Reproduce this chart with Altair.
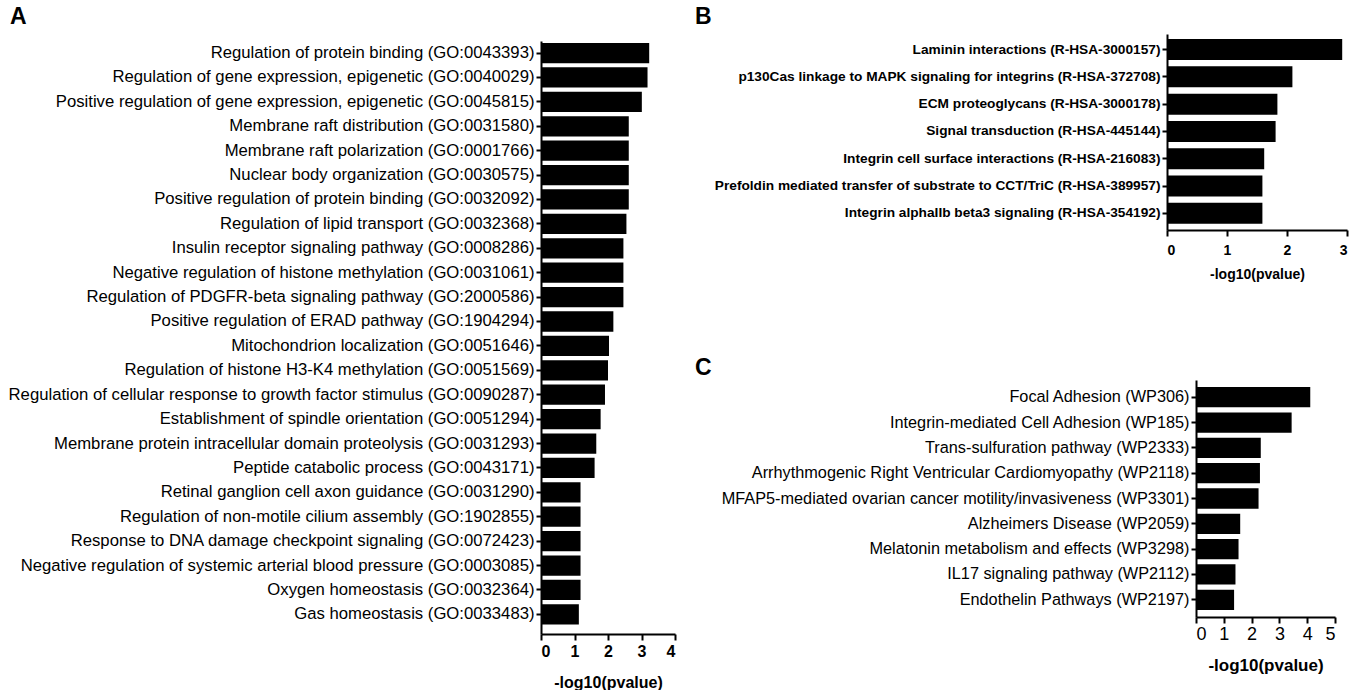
import altair as alt
import pandas as pd

FONT = "Liberation Sans"

a_terms = [
    "Regulation of protein binding (GO:0043393)",
    "Regulation of gene expression, epigenetic (GO:0040029)",
    "Positive regulation of gene expression, epigenetic (GO:0045815)",
    "Membrane raft distribution (GO:0031580)",
    "Membrane raft polarization (GO:0001766)",
    "Nuclear body organization (GO:0030575)",
    "Positive regulation of protein binding (GO:0032092)",
    "Regulation of lipid transport (GO:0032368)",
    "Insulin receptor signaling pathway (GO:0008286)",
    "Negative regulation of histone methylation (GO:0031061)",
    "Regulation of PDGFR-beta signaling pathway (GO:2000586)",
    "Positive regulation of ERAD pathway (GO:1904294)",
    "Mitochondrion localization (GO:0051646)",
    "Regulation of histone H3-K4 methylation (GO:0051569)",
    "Regulation of cellular response to growth factor stimulus (GO:0090287)",
    "Establishment of spindle orientation (GO:0051294)",
    "Membrane protein intracellular domain proteolysis (GO:0031293)",
    "Peptide catabolic process (GO:0043171)",
    "Retinal ganglion cell axon guidance (GO:0031290)",
    "Regulation of non-motile cilium assembly (GO:1902855)",
    "Response to DNA damage checkpoint signaling (GO:0072423)",
    "Negative regulation of systemic arterial blood pressure (GO:0003085)",
    "Oxygen homeostasis (GO:0032364)",
    "Gas homeostasis (GO:0033483)",
]
a_vals = [3.23, 3.18, 3.01, 2.62, 2.62, 2.62, 2.62, 2.55, 2.46, 2.46, 2.46, 2.16,
          2.03, 2.00, 1.91, 1.78, 1.65, 1.60, 1.18, 1.18, 1.18, 1.18, 1.18, 1.13]
a_ticks = [0, 1, 2, 3, 4]

b_terms = [
    "Laminin interactions (R-HSA-3000157)",
    "p130Cas linkage to MAPK signaling for integrins (R-HSA-372708)",
    "ECM proteoglycans (R-HSA-3000178)",
    "Signal transduction (R-HSA-445144)",
    "Integrin cell surface interactions (R-HSA-216083)",
    "Prefoldin mediated transfer of substrate to CCT/TriC (R-HSA-389957)",
    "Integrin alphaIIb beta3 signaling (R-HSA-354192)",
]
b_vals = [2.92, 2.09, 1.84, 1.81, 1.62, 1.59, 1.59]
b_ticks = [0, 1, 2, 3]

c_terms = [
    "Focal Adhesion (WP306)",
    "Integrin-mediated Cell Adhesion (WP185)",
    "Trans-sulfuration pathway (WP2333)",
    "Arrhythmogenic Right Ventricular Cardiomyopathy (WP2118)",
    "MFAP5-mediated ovarian cancer motility/invasiveness (WP3301)",
    "Alzheimers Disease (WP2059)",
    "Melatonin metabolism and effects (WP3298)",
    "IL17 signaling pathway (WP2112)",
    "Endothelin Pathways (WP2197)",
]
c_vals = [4.11, 3.44, 2.33, 2.30, 2.25, 1.59, 1.53, 1.42, 1.37]
c_ticks = [0, 1, 2, 3, 4, 5]

x_title = "-log10(pvalue)"


def panel(terms, vals, ticks, letter, width, height, yrange, xrange, pin, pout,
          align, lab_size, lab_weight, tick_size, tick_weight, title_size,
          yoffset, title_dx, title_offset, lab_pad, title_pad):
    df = pd.DataFrame({"term": terms, "value": vals})
    xs = dict(domain=[ticks[0], ticks[-1]], nice=False, zero=True)
    if xrange is not None:
        xs["range"] = xrange
    ys = dict(paddingInner=pin, paddingOuter=pout, align=align)
    if yrange is not None:
        ys["range"] = yrange
    yaxis = dict(title=None, labelFont=FONT, labelFontSize=lab_size,
                 labelFontWeight=lab_weight, labelLimit=800, labelPadding=2,
                 tickSize=5, tickWidth=2, domainWidth=2, domainColor="black",
                 tickColor="black", labelColor="black", grid=False)
    if yoffset:
        yaxis["offset"] = yoffset
    return alt.Chart(df).mark_bar(color="black").encode(
        x=alt.X("value:Q", scale=alt.Scale(**xs),
                axis=alt.Axis(values=ticks, title=x_title, format="d",
                              labelFont=FONT, labelFontSize=tick_size,
                              labelFontWeight=tick_weight, labelPadding=lab_pad,
                              titleFont=FONT, titleFontSize=title_size,
                              titleFontWeight="bold", titlePadding=title_pad,
                              tickSize=6, tickWidth=2, domainWidth=2,
                              domainColor="black", tickColor="black",
                              labelColor="black", titleColor="black",
                              grid=False)),
        y=alt.Y("term:N", sort=None, scale=alt.Scale(**ys), axis=alt.Axis(**yaxis)),
    ).properties(
        width=width, height=height,
        title=alt.TitleParams(letter, anchor="start", frame="group", dx=title_dx,
                              offset=title_offset, font=FONT, fontSize=23,
                              fontWeight="bold", color="black"),
    )


pa = panel(a_terms, a_vals, a_ticks, "A", 134, 600, [7, 600], None, 0.17, 0.236,
           0.17, 16.7, "normal", 16, "bold", 16, 0, -531, 5, 3, 15)
pb = panel(b_terms, b_vals, b_ticks, "B", 180, 196, None, None, 0.23, 0.205,
           0.45, 13.7, "bold", 14, "bold", 14, 0, -472, 5, 7, 10)
pc = panel(c_terms, c_vals, c_ticks, "C", 168, 237, None, [29, 168], 0.2, 0.28,
           0.5, 16.3, "normal", 18, "normal", 17, -29, -472, 0, 2, 14)

right = alt.vconcat(pb, pc, spacing=76)
chart = alt.hconcat(pa, right, spacing=19).properties(
    padding={"left": 8, "top": 6, "right": 2, "bottom": 0},
    background="white",
).configure_view(stroke=None)

chart.save("out.html", embed_options={"renderer": "svg", "actions": False})
